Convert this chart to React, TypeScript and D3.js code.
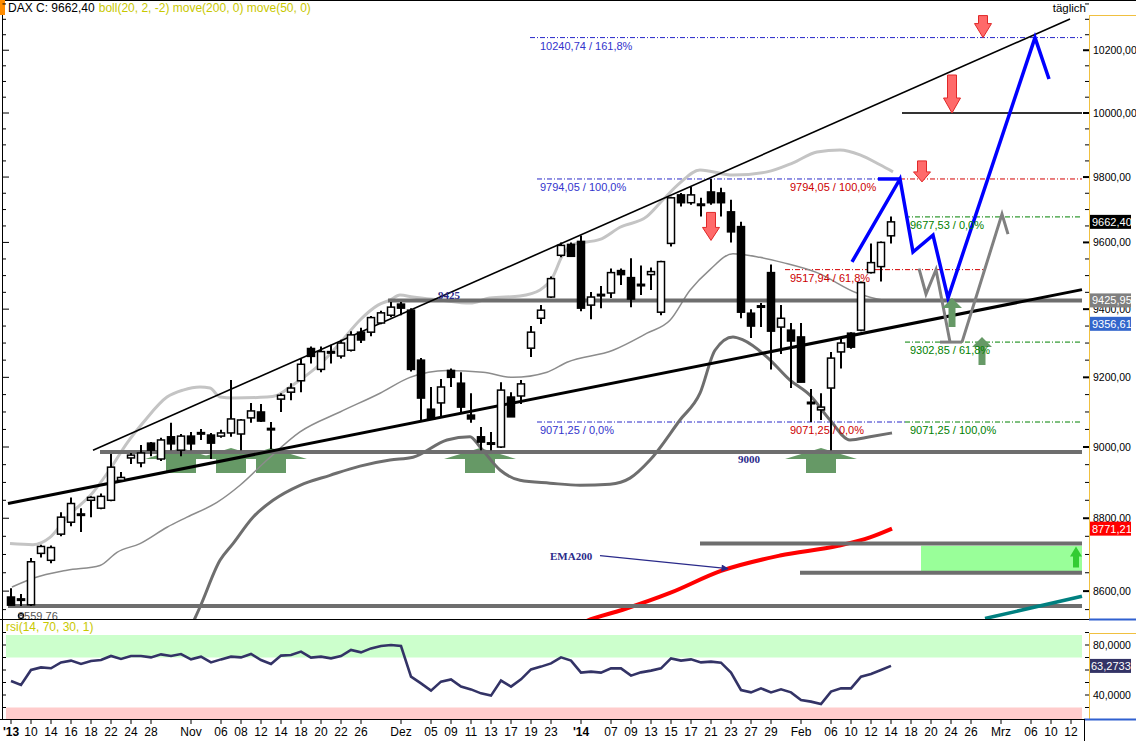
import React from "react";
import * as d3 from "d3";

const FONT = "'Liberation Sans', Arial, Helvetica, sans-serif";
const SERIF = "'Liberation Serif', 'Times New Roman', serif";

// ---------------- candles (index = trading day from 08.10.2013) ----------------
const opens = [
  8584, 8576, 8563, 8703, 8684, 8756, 8789, 8808, 8850, 8828,
  8850, 8906, 8969, 8955, 9011, 8966, 9029, 8991, 9031, 9039,
  9034, 9031, 9040, 9037, 9083, 9100, 9049, 9137, 9157, 9190,
  9284, 9223, 9271, 9262, 9279, 9332, 9332, 9359, 9382, 9415,
  9397, 9250, 9108, 9126, 9220, 9183, 9091, 9029, 9010, 9000,
  9143, 9146, 9285, 9373, 9436, 9561, 9594, 9603, 9412, 9440,
  9448, 9515, 9494, 9470, 9503, 9391, 9597, 9745, 9721, 9713,
  9754, 9751, 9693, 9648, 9388, 9408, 9509, 9347, 9338, 9318,
  9124, 9106, 9169, 9274, 9329, 9338, 9509, 9527, 9620,
];
const highs = [
  8608, 8592, 8690, 8727, 8725, 8817, 8858, 8828, 8861, 8869,
  8980, 8929, 8983, 9006, 9014, 9026, 9069, 9037, 9043, 9051,
  9040, 9049, 9192, 9080, 9126, 9123, 9071, 9154, 9183, 9253,
  9290, 9290, 9295, 9310, 9335, 9345, 9380, 9395, 9421, 9421,
  9403, 9256, 9172, 9195, 9226, 9215, 9154, 9057, 9043, 9186,
  9157, 9192, 9350, 9412, 9497, 9600, 9600, 9621, 9451, 9469,
  9521, 9521, 9552, 9530, 9524, 9545, 9739, 9751, 9769, 9736,
  9794.05, 9767, 9730, 9663, 9400, 9418, 9533, 9412, 9359, 9359,
  9166, 9154, 9274, 9318, 9332, 9482, 9597, 9603, 9679,
];
const lows = [
  8561, 8559.76, 8560, 8692, 8676, 8750, 8778, 8762, 8803, 8825,
  8847, 8903, 8952, 8943, 8974, 8960, 8991, 8974, 8991, 9020,
  8966, 9026, 9029, 8991, 9069, 9071, 8994, 9100, 9134, 9157,
  9240, 9215, 9240, 9255, 9275, 9300, 9320, 9355, 9376, 9382,
  9217, 9077, 9077, 9086, 9172, 9100, 9069, 8991, 8991, 8997,
  9086, 9123, 9259, 9356, 9433, 9555, 9558, 9394, 9370, 9403,
  9433, 9472, 9406, 9442, 9457, 9382, 9588, 9709, 9715, 9679,
  9715, 9679, 9600, 9373, 9315, 9347, 9223, 9268, 9169, 9186,
  9071, 9077, 8991, 9226, 9283, 9335, 9506, 9482, 9597,
];
const closes = [
  8562, 8579, 8680, 8722, 8719, 8803, 8841, 8812, 8858, 8861,
  8943, 8914, 8977, 8983, 8991, 9020, 9009, 9031, 9009, 9041,
  9011, 9040, 9080, 9077, 9103, 9074, 9053, 9148, 9169, 9238,
  9261, 9275, 9275, 9300, 9324, 9309, 9375, 9389, 9406, 9403,
  9223, 9140, 9080, 9172, 9200, 9114, 9080, 9014, 9012, 9163,
  9086, 9181, 9332, 9397, 9491, 9591, 9558, 9403, 9436, 9444,
  9509, 9503, 9430, 9474, 9512, 9542, 9736, 9721, 9745, 9717,
  9721, 9721, 9632, 9391, 9350, 9410, 9335, 9373, 9306, 9186,
  9128, 9114, 9256, 9300, 9288, 9479, 9539, 9600, 9662.4,
];

// ---------------- RSI(14) ----------------
const rsiValues = [
  51.2, 48, 60, 62.1, 61.4, 66.1, 67.5, 64.8, 67.2, 68,
  71.2, 68.8, 71.2, 71.2, 70.1, 72.5, 71.2, 72.8, 68.5, 70.7,
  66.1, 68.5, 70.7, 70.1, 72.8, 68, 64.8, 71.5, 72, 74.7,
  69.9, 70.7, 69.3, 71.2, 76, 74.1, 77.3, 79.2, 80, 79.2,
  54.7, 49.3, 43.5, 50.7, 52.5, 46.7, 44.5, 41.3, 39.5, 51.5,
  46.7, 52.5, 60.5, 62.7, 65.3, 70.1, 67.5, 57.9, 58.7, 57.9,
  61.3, 61.3, 55.5, 58.1, 59.5, 61.3, 69.3, 67.5, 68.5, 66.1,
  66.7, 65.9, 57.9, 44, 42.1, 45.3, 42.1, 44.5, 42.1, 36,
  34.7, 32.8, 42.7, 45.3, 45.3, 54.7, 56.8, 60, 63.2733,
];

// ---------------- Bollinger (20,2) & EMA200: [day index, price] ----------------
const bbUpper: [number, number][] = [
  [-0.1, 8730], [2.2, 8727], [3.9, 8747], [5.6, 8803], [8.2, 8872], [9.9, 8937],
  [11.6, 9011], [13.2, 9069], [15.6, 9143], [17.2, 9163], [18.9, 9172], [19.9, 9169],
  [20.9, 9143], [22.2, 9140], [25.6, 9143], [26.6, 9148], [27.9, 9172], [28.9, 9192],
  [30.9, 9238], [32.9, 9300], [34.9, 9368], [36.7, 9412], [37.9, 9427], [38.9, 9442],
  [40.2, 9436], [42.9, 9427], [45.9, 9418], [47.9, 9433], [50.9, 9439], [52.9, 9457],
  [54.2, 9497], [55.1, 9558], [56.2, 9594], [58.9, 9609], [60.9, 9646], [63.6, 9679],
  [65.2, 9730], [66.9, 9782], [68.9, 9822], [72.2, 9806], [75.6, 9816], [78.2, 9844],
  [80.6, 9878], [82.9, 9884], [84.9, 9869], [86.9, 9838], [88.2, 9816],
];
const bbMiddle: [number, number][] = [
  [0.1, 8611], [2.2, 8635], [5.6, 8657], [8.9, 8670], [10.6, 8706], [12.9, 8730],
  [15.6, 8775], [17.6, 8803], [20.6, 8844], [22.9, 8892], [25.6, 8963], [28.9, 9043],
  [32.9, 9100], [36.9, 9154], [39.9, 9200], [43.6, 9220], [47.2, 9215], [50.2, 9200],
  [53.6, 9215], [55.6, 9244], [60.2, 9279], [63.6, 9329], [65.9, 9367], [67.9, 9456],
  [69.9, 9518], [72.2, 9566], [74.9, 9555], [77.2, 9539], [80.6, 9509], [84.6, 9448],
  [87.2, 9427], [88.2, 9424],
];
const bbLower: [number, number][] = [
  [17.4, 8469], [18.9, 8557], [20.9, 8684], [22.2, 8730], [24.2, 8803], [26.2, 8850],
  [28.9, 8892], [31.9, 8920], [34.9, 8946], [37.9, 8963], [40.2, 8971], [43.6, 9020],
  [45.9, 9029], [46.9, 9000], [48.9, 8935], [50.9, 8906], [53.9, 8898], [56.9, 8892],
  [59.9, 8895], [61.9, 8912], [63.9, 8963], [66.9, 9077], [68.9, 9154], [70.4, 9279],
  [72.2, 9318], [73.2, 9309], [75.6, 9259], [77.9, 9192], [79.9, 9148], [81.9, 9077],
  [83.9, 9020], [85.9, 9029], [88.1, 9040],
];
const ema200: [number, number][] = [
  [55.9, 8500], [57.6, 8520], [61.1, 8549], [65.9, 8595], [71.0, 8655], [76.9, 8697],
  [82.7, 8724], [85.9, 8747], [88.1, 8771.21],
];

// ---------------- axes ----------------
const xTickIdx = [0, 2, 4, 6, 8, 10, 12, 14, 18, 21, 23, 25, 27, 29, 31, 33, 35, 39, 42, 44, 46, 48, 50, 52, 54, 57, 60, 62, 64, 66, 68, 70, 72, 74, 76, 79, 82, 84, 86, 88, 90, 92, 94, 96, 99, 102, 104, 106];
const xTickLabels = ["'13", "10", "14", "16", "18", "22", "24", "28", "Nov", "06", "08", "12", "14", "18", "20", "22", "26", "Dez", "05", "09", "11", "13", "17", "19", "23", "'14", "07", "09", "13", "15", "17", "21", "23", "27", "29", "Feb", "06", "10", "12", "14", "18", "20", "24", "26", "Mrz", "06", "10", "12"];
const priceTicks = [8600, 8800, 9000, 9200, 9400, 9600, 9800, 10000, 10200];
const rsiTicks = [40, 80];

// ---------------- drawn annotations ----------------
const upperChannel: [number, number][] = [[8.2, 8991], [105.9, 10301]];
const lowerTrend: [number, number][] = [[-0.3, 8841], [107.1, 9458]];
const hLines = [
  { price: 9425.95, from: 37.7, to: 107.1, color: "#6e6e6e", w: 4 },
  { price: 8986, from: 8.9, to: 107.1, color: "#6e6e6e", w: 4 },
  { price: 8730, from: 68.9, to: 107.1, color: "#6e6e6e", w: 4 },
  { price: 8650, from: 78.9, to: 107.1, color: "#6e6e6e", w: 4 },
  { price: 8559.76, from: -0.3, to: 107.1, color: "#6e6e6e", w: 4 },
  { price: 10000, from: 89.1, to: 107.1, color: "#333333", w: 2 },
];
const fibLines = [
  { price: 10240.74, from: 51.9, to: 107.1, color: "#2828c8" },
  { price: 9794.05, from: 52.6, to: 88.9, color: "#2828c8" },
  { price: 9071.25, from: 52.6, to: 89.4, color: "#2828c8" },
  { price: 9794.05, from: 88.9, to: 107.1, color: "#d40000" },
  { price: 9517.94, from: 77.4, to: 97.4, color: "#d40000" },
  { price: 9677.53, from: 89.4, to: 107.1, color: "#008000" },
  { price: 9302.85, from: 89.4, to: 107.1, color: "#008000" },
  { price: 9071.25, from: 89.4, to: 107.1, color: "#008000" },
];
const fibLabels = [
  { price: 10240.74, at: 52.9, text: "10240,74 / 161,8%", color: "#3333cc" },
  { price: 9794.05, at: 52.9, text: "9794,05 / 100,0%", color: "#3333cc" },
  { price: 9071.25, at: 52.9, text: "9071,25 / 0,0%", color: "#3333cc" },
  { price: 9794.05, at: 77.9, text: "9794,05 / 100,0%", color: "#cc0000" },
  { price: 9517.94, at: 77.9, text: "9517,94 / 61,8%", color: "#cc0000" },
  { price: 9071.25, at: 77.9, text: "9071,25 / 0,0%", color: "#cc0000" },
  { price: 9677.53, at: 89.9, text: "9677,53 / 0,0%", color: "#008000" },
  { price: 9302.85, at: 89.9, text: "9302,85 / 61,8%", color: "#008000" },
  { price: 9071.25, at: 89.9, text: "9071,25 / 100,0%", color: "#008000" },
];
const bluePath: [number, number][] = [
  [84.1, 9541], [88.9, 9794.05], [90.2, 9571], [92.2, 9622], [93.7, 9433], [102.4, 10240.74], [103.8, 10108],
];
const blueBar: [number, number][] = [[86.7, 9794.05], [88.9, 9794.05]];
const grayPathA: [number, number][] = [[90.8, 9521], [91.5, 9445], [92.5, 9518], [93.9, 9302.85]];
const grayBar: [number, number][] = [[92.9, 9302.85], [95.1, 9302.85]];
const grayPathB: [number, number][] = [[95.1, 9302.85], [99.1, 9686], [99.7, 9625]];
const tealLine: [number, number][] = [[97.4, 8526], [107.1, 8586]];
const greenZone = { from: 91, to: 107.1, top: 8724, bottom: 8652 };
const redArrows = [
  { idx: 97.2, price: 10240.74, shaft: 8, head: 14 },
  { idx: 94.1, price: 10000, shaft: 23, head: 15 },
  { idx: 91.1, price: 9785, shaft: 11, head: 10 },
  { idx: 70.0, price: 9606, shaft: 15, head: 13 },
];
const supportArrowIdx = [17, 22, 26, 46.9, 81];
const supportPrice = 8986;
const smallGreenArrows = [
  { idx: 94.1, price: 9433, shaft: 19 },
  { idx: 97.1, price: 9318, shaft: 18 },
];
const zoneArrow = { idx: 106.5, price: 8722 };
const valueBoxes = [
  { v: 9662.4, bg: "#000000", fg: "#ffffff" },
  { v: 9425.95, bg: "#808080", fg: "#ffffff" },
  { v: 9356.61, bg: "#3366cc", fg: "#ffffff" },
  { v: 8771.21, bg: "#ff0000", fg: "#ffffff" },
];
const rsiLast = rsiValues[rsiValues.length - 1];

const fmt2 = (v: number) => v.toFixed(2).replace(".", ",");
const fmt4 = (v: number) => v.toFixed(4).replace(".", ",");

export default function App() {
  const x = d3.scaleLinear().domain([0, 107]).range([11, 1081]);
  const y = d3.scaleLog().domain([8524.7, 10362.9]).range([619, 0]);
  const yr = d3.scaleLinear().domain([0, 100]).range([745, 620]);

  const smooth = d3.line<[number, number]>().x((d) => x(d[0])).y((d) => y(d[1])).curve(d3.curveMonotoneX);
  const straight = d3.line<[number, number]>().x((d) => x(d[0])).y((d) => y(d[1]));
  const rsiLine = d3.line<number>().x((_, i) => x(i)).y((d) => yr(d));

  const minorTicks = d3.range(8550, 10400, 50);
  const rsiMinor = [30, 40, 50, 60, 70, 80, 90];

  const bodyW = 7;

  return (
    <svg width={1136} height={741} style={{ position: "absolute", left: 0, top: 0, background: "#fff" }} fontFamily={FONT}>
      <defs>
        <clipPath id="mainClip"><rect x={3} y={14} width={1082} height={605} /></clipPath>
        <clipPath id="rsiClip"><rect x={3} y={620} width={1082} height={99} /></clipPath>
        <marker id="navyHead" viewBox="0 0 10 10" refX="9" refY="5" markerWidth="7" markerHeight="6" orient="auto">
          <path d="M0,0 L10,5 L0,10 z" fill="#2a2a8a" />
        </marker>
      </defs>

      {/* frame */}
      <rect x={0} y={0} width={1136} height={741} fill="#fff" />
      <line x1={0} x2={1136} y1={0.5} y2={0.5} stroke="#000" />
      <rect x={0} y={0} width={5} height={15} fill="#ff8c00" />
      <text x={8} y={12} fontSize={12}>
        <tspan fill="#000">DAX C: {fmt2(closes[closes.length - 1])}</tspan>
        <tspan fill="#c8c800" dx={4}>boll(20, 2, -2) move(200, 0) move(50, 0)</tspan>
      </text>
      <text x={1086} y={12} fontSize={11.5} fill="#000" textAnchor="end">täglich</text>

      {/* main panel */}
      <g clipPath="url(#mainClip)">
        {/* support arrows behind */}
        {supportArrowIdx.map((i, k) => {
          const gx = x(i), gy = y(supportPrice);
          const pts = [[gx, gy - 4], [gx + 36, gy + 7], [gx + 15, gy + 7], [gx + 15, gy + 21], [gx - 15, gy + 21], [gx - 15, gy + 7], [gx - 36, gy + 7]];
          return <polygon key={k} points={pts.map((p) => p.join(",")).join(" ")} fill="#669966" />;
        })}
        {/* green zone */}
        <rect x={x(greenZone.from)} y={y(greenZone.top)} width={x(greenZone.to) - x(greenZone.from)} height={y(greenZone.bottom) - y(greenZone.top)} fill="#99ff99" />
        {(() => {
          const ax = x(zoneArrow.idx), ay = y(zoneArrow.price);
          const pts = [[ax, ay], [ax + 6, ay + 10], [ax + 3, ay + 10], [ax + 3, ay + 21], [ax - 3, ay + 21], [ax - 3, ay + 10], [ax - 6, ay + 10]];
          return <polygon points={pts.map((p) => p.join(",")).join(" ")} fill="#33cc33" />;
        })()}

        {/* fib lines */}
        {fibLines.map((f, k) => (
          <line key={k} x1={x(f.from)} x2={x(f.to)} y1={y(f.price)} y2={y(f.price)} stroke={f.color} strokeWidth={1} strokeDasharray="5,2,1,2" />
        ))}

        {/* bollinger + ema */}
        <path d={smooth(bbUpper) || ""} fill="none" stroke="#c4c4c4" strokeWidth={3} />
        <path d={smooth(bbMiddle) || ""} fill="none" stroke="#8c8c8c" strokeWidth={1.5} />
        <path d={smooth(bbLower) || ""} fill="none" stroke="#6e6e6e" strokeWidth={3} />
        <path d={smooth(ema200) || ""} fill="none" stroke="#ff0000" strokeWidth={4} />

        {/* horizontal levels */}
        {hLines.map((h, k) => (
          <line key={k} x1={x(h.from)} x2={x(h.to)} y1={y(h.price)} y2={y(h.price)} stroke={h.color} strokeWidth={h.w} />
        ))}
        <path d={straight(tealLine) || ""} stroke="#008080" strokeWidth={3.5} fill="none" />

        {/* trend lines */}
        <path d={straight(upperChannel) || ""} stroke="#000" strokeWidth={1.6} fill="none" />
        <path d={straight(lowerTrend) || ""} stroke="#000" strokeWidth={3} fill="none" />

        {/* candles */}
        {opens.map((o, i) => {
          const c = closes[i];
          const cx = x(i);
          const up = c >= o;
          const top = y(Math.max(o, c));
          const bot = y(Math.min(o, c));
          const h = Math.max(bot - top, 1.5);
          return (
            <g key={i}>
              <line x1={cx} x2={cx} y1={y(highs[i])} y2={y(lows[i])} stroke="#000" strokeWidth={2} />
              <rect x={cx - bodyW / 2} y={top} width={bodyW} height={h} fill={up ? "#fff" : "#000"} stroke="#000" strokeWidth={1.5} />
            </g>
          );
        })}

        {/* projection paths */}
        <path d={straight(grayPathA) || ""} stroke="#808080" strokeWidth={3} fill="none" strokeLinejoin="miter" />
        <path d={straight(grayBar) || ""} stroke="#808080" strokeWidth={3} fill="none" />
        <path d={straight(grayPathB) || ""} stroke="#808080" strokeWidth={3} fill="none" />
        <path d={straight(bluePath) || ""} stroke="#0000ff" strokeWidth={3.5} fill="none" />
        <path d={straight(blueBar) || ""} stroke="#0000ff" strokeWidth={3.5} fill="none" />

        {/* small green up arrows */}
        {smallGreenArrows.map((a, k) => {
          const ax = x(a.idx), ay = y(a.price);
          const pts = [[ax, ay], [ax + 10, ay + 10], [ax + 3.5, ay + 10], [ax + 3.5, ay + 10 + a.shaft], [ax - 3.5, ay + 10 + a.shaft], [ax - 3.5, ay + 10], [ax - 10, ay + 10]];
          return <polygon key={k} points={pts.map((p) => p.join(",")).join(" ")} fill="#669966" />;
        })}
        {/* red down arrows */}
        {redArrows.map((a, k) => {
          const ax = x(a.idx), ay = y(a.price);
          const hb = ay - a.head;
          const pts = [[ax - 4.5, hb - a.shaft], [ax + 4.5, hb - a.shaft], [ax + 4.5, hb], [ax + 8.5, hb], [ax, ay], [ax - 8.5, hb], [ax - 4.5, hb]];
          return <polygon key={k} points={pts.map((p) => p.join(",")).join(" ")} fill="#ff6a6a" stroke="#e02828" strokeWidth={1} />;
        })}

        {/* labels */}
        {fibLabels.map((f, k) => (
          <text key={k} x={x(f.at)} y={y(f.price) + 12} fontSize={11} fill={f.color}>{f.text}</text>
        ))}
        <text x={x(42.7)} y={y(9425.95) - 1} fontSize={11} fontWeight="bold" fontFamily={SERIF} fill="#2a2a8a">9425</text>
        <text x={x(72.7)} y={y(supportPrice) + 11} fontSize={11} fontWeight="bold" fontFamily={SERIF} fill="#2a2a8a">9000</text>
        <text x={x(53.9)} y={y(8697) + 4} fontSize={11} fontWeight="bold" fontFamily={SERIF} fill="#2a2a8a">EMA200</text>
        <line x1={x(58.9)} y1={y(8697)} x2={x(71.7)} y2={y(8661)} stroke="#2a2a8a" strokeWidth={1.2} markerEnd="url(#navyHead)" />
        <circle cx={x(1)} cy={y(8559.76) + 10} r={2.5} fill="none" stroke="#000" strokeWidth={1.5} />
        <text x={x(0.7)} y={y(8559.76) + 14} fontSize={11} fill="#555">{fmt2(8559.76)}</text>
      </g>

      {/* left border & ticks */}
      <line x1={2.5} x2={2.5} y1={15} y2={720} stroke="#000" />
      {minorTicks.map((v) => (
        <line key={"l" + v} x1={2.5} x2={v % 200 === 0 ? 9 : 6} y1={y(v)} y2={y(v)} stroke="#000" />
      ))}
      {rsiMinor.map((v) => (
        <line key={"lr" + v} x1={2.5} x2={6} y1={yr(v)} y2={yr(v)} stroke="#000" />
      ))}

      {/* right axis main */}
      <line x1={1089.5} x2={1089.5} y1={15} y2={619} stroke="#f0c040" />
      <line x1={1089.5} x2={1136} y1={15.5} y2={15.5} stroke="#f0c040" />
      {minorTicks.map((v) => (
        <line key={"r" + v} x1={v % 200 === 0 ? 1083 : 1085} x2={1089} y1={y(v)} y2={y(v)} stroke="#000" strokeWidth={v % 200 === 0 ? 2 : 1} />
      ))}
      {priceTicks.map((v) => (
        <text key={"pt" + v} x={1093} y={y(v) + 4} fontSize={10.5} fill="#000">{fmt2(v)}</text>
      ))}
      {valueBoxes.map((b, k) => (
        <g key={k}>
          <rect x={1090} y={y(b.v) - 7} width={41} height={14} fill={b.bg} />
          <text x={1092} y={y(b.v) + 4} fontSize={11} fill={b.fg}>{fmt2(b.v)}</text>
        </g>
      ))}

      {/* panel separator */}
      <line x1={0} x2={1089} y1={619.5} y2={619.5} stroke="#000" />
      <line x1={1089} x2={1136} y1={619.5} y2={619.5} stroke="#3060d0" strokeWidth={2} />

      {/* RSI panel */}
      <text x={6} y={631} fontSize={12} fill="#c8c800">rsi(14, 70, 30, 1)</text>
      <g clipPath="url(#rsiClip)">
        <rect x={6} y={yr(88)} width={1076} height={yr(70) - yr(88)} fill="#ccffcc" />
        <rect x={6} y={yr(30)} width={1076} height={yr(0) - yr(30)} fill="#ffcccc" />
        <path d={rsiLine(rsiValues) || ""} fill="none" stroke="#333366" strokeWidth={2.6} />
      </g>
      <line x1={1089.5} x2={1089.5} y1={633} y2={719} stroke="#f0c040" />
      <line x1={1089.5} x2={1136} y1={633.5} y2={633.5} stroke="#f0c040" />
      {rsiMinor.map((v) => (
        <line key={"rr" + v} x1={1085} x2={1089} y1={yr(v)} y2={yr(v)} stroke="#000" />
      ))}
      {rsiTicks.map((v) => (
        <text key={"rt" + v} x={1093} y={yr(v) + 4} fontSize={10.5} fill="#000">{fmt4(v)}</text>
      ))}
      <rect x={1090} y={yr(rsiLast) - 7} width={41} height={14} fill="#333366" />
      <text x={1091} y={yr(rsiLast) + 4} fontSize={11} fill="#fff">{fmt4(rsiLast)}</text>

      {/* x axis */}
      <line x1={0} x2={1084} y1={719.5} y2={719.5} stroke="#000" />
      <line x1={1084} x2={1136} y1={719.5} y2={719.5} stroke="#3060d0" strokeWidth={2} />
      <line x1={1084.5} x2={1084.5} y1={719} y2={741} stroke="#000" />
      {xTickIdx.map((i, k) => (
        <g key={"xt" + k}>
          <line x1={x(i)} x2={x(i)} y1={720} y2={724} stroke="#000" />
          <text x={x(i)} y={736} fontSize={12} textAnchor="middle" fontWeight={xTickLabels[k].startsWith("'") ? "bold" : "normal"} fill="#000">
            {xTickLabels[k]}
          </text>
        </g>
      ))}
    </svg>
  );
}
